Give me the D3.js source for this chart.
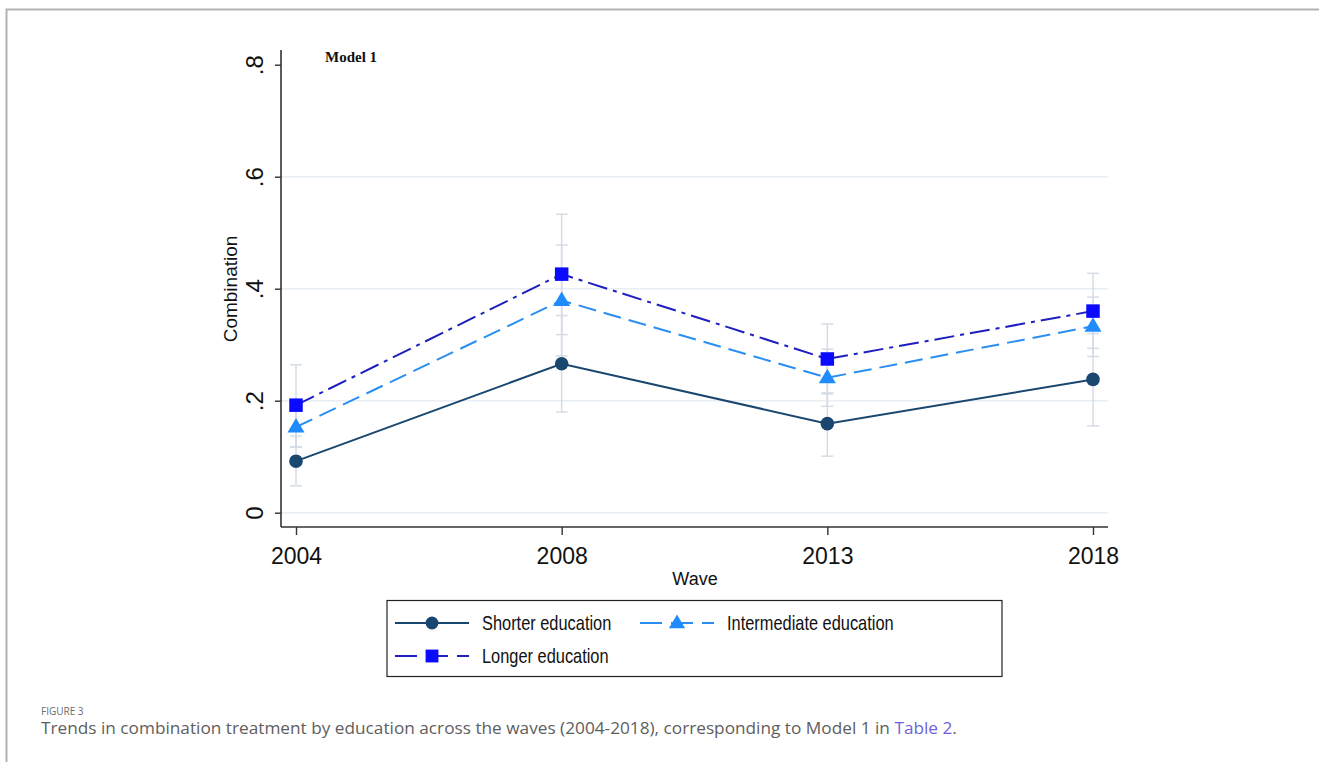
<!DOCTYPE html>
<html>
<head>
<meta charset="utf-8">
<script src="https://cdn.jsdelivr.net/npm/d3@7"></script>
<style>
  html, body { margin: 0; padding: 0; background: #fff; }
  svg { display: block; }
</style>
</head>
<body>
<svg id="chart" width="1319" height="762"></svg>
<script>
// Survey waves and predicted share receiving combination treatment
const waves = ["2004", "2008", "2013", "2018"];
const shorterValues = [0.092, 0.266, 0.159, 0.238];
const shorterLower  = [0.048, 0.180, 0.101, 0.155];
const shorterUpper  = [0.137, 0.352, 0.214, 0.320];
const intermediateValues = [0.153, 0.379, 0.241, 0.333];
const intermediateLower  = [0.117, 0.280, 0.190, 0.279];
const intermediateUpper  = [0.190, 0.478, 0.292, 0.385];
const longerValues = [0.192, 0.426, 0.2745, 0.360];
const longerLower  = [0.118, 0.318, 0.212, 0.2935];
const longerUpper  = [0.264, 0.533, 0.337, 0.4275];
const yTicks = [0, 0.2, 0.4, 0.6, 0.8];
const yTickLabels = ["0", ".2", ".4", ".6", ".8"];
const seriesNames = ["Shorter education", "Intermediate education", "Longer education"];

const series = [
  { name: seriesNames[0], values: shorterValues, lo: shorterLower, hi: shorterUpper,
    line: "#1a476f", fill: "#1a476f", dash: null, legendDash: null, shape: "circle" },
  { name: seriesNames[1], values: intermediateValues, lo: intermediateLower, hi: intermediateUpper,
    line: "#2a8ff0", fill: "#1f8bff", dash: "18,8", legendDash: "22,9", shape: "triangle" },
  { name: seriesNames[2], values: longerValues, lo: longerLower, hi: longerUpper,
    line: "#1f1fc0", fill: "#0a0aff", dash: "20,6,4,6", legendDash: "22,9", shape: "square" }
];

const svg = d3.select("#chart");
const sans = "Arial, 'Liberation Sans', sans-serif";

// Page frame
svg.append("path")
  .attr("d", "M6.5,762 L6.5,9.5 L1319,9.5")
  .attr("fill", "none").attr("stroke", "#b3b3b3").attr("stroke-width", 2);

const plot = { left: 281, right: 1108, top: 50, bottom: 527 };

const x = d3.scalePoint().domain(waves).range([296, 1093]);
const y = d3.scaleLinear().domain([0, 0.8]).range([512.7, 64.7]);

// Horizontal grid lines
svg.append("g").selectAll("line").data(yTicks.slice(0, 4)).join("line")
  .attr("x1", plot.left).attr("x2", plot.right)
  .attr("y1", d => y(d)).attr("y2", d => y(d))
  .attr("stroke", "#e8eef3").attr("stroke-width", 1.5);

// Y axis
const yAxis = d3.axisLeft(y).tickValues(yTicks).tickFormat((d, i) => yTickLabels[i]).tickSize(6).tickPadding(0);
const gy = svg.append("g").attr("transform", `translate(${plot.left},0)`).call(yAxis);
gy.select(".domain").attr("d", `M0,${plot.top}V${plot.bottom}`).attr("stroke", "#333").attr("stroke-width", 1.6);
gy.selectAll(".tick line").attr("stroke", "#333").attr("stroke-width", 1.4);
gy.selectAll(".tick text")
  .attr("transform", "translate(-26,0) rotate(-90)")
  .attr("x", 0).attr("y", 0).attr("dy", "0.35em")
  .attr("text-anchor", "middle")
  .style("font-family", sans)
  .style("font-size", "24px").attr("fill", "#111");

// X axis
const xAxis = d3.axisBottom(x).tickSize(8).tickPadding(13);
const gx = svg.append("g").attr("transform", `translate(0,${plot.bottom})`).call(xAxis);
gx.select(".domain").attr("d", `M${plot.left},0H${plot.right}`).attr("stroke", "#333").attr("stroke-width", 1.6);
gx.selectAll(".tick line").attr("stroke", "#333").attr("stroke-width", 1.4);
gx.selectAll(".tick text")
  .style("font-family", sans)
  .style("font-size", "23px").attr("fill", "#111");

// Axis titles
svg.append("text").attr("x", 695).attr("y", 585).attr("text-anchor", "middle")
  .style("font-family", sans).style("font-size", "18px")
  .attr("fill", "#111").text("Wave");
svg.append("text").attr("transform", "translate(237,289) rotate(-90)").attr("text-anchor", "middle")
  .style("font-family", sans).style("font-size", "19px")
  .attr("fill", "#111").text("Combination");

// Panel label
svg.append("text").attr("x", 325).attr("y", 62)
  .style("font-family", "'Liberation Serif', 'Times New Roman', serif").style("font-size", "15px")
  .style("font-weight", "bold").attr("fill", "#111").text("Model 1");

// Confidence intervals
const ciG = svg.append("g");
series.forEach(s => {
  waves.forEach((w, i) => {
    const cx = x(w);
    ciG.append("line").attr("x1", cx).attr("x2", cx).attr("y1", y(s.lo[i])).attr("y2", y(s.hi[i]))
      .attr("stroke", "#d6dce6").attr("stroke-width", 1.5);
    [s.lo[i], s.hi[i]].forEach(v => {
      ciG.append("line").attr("x1", cx - 6).attr("x2", cx + 6).attr("y1", y(v)).attr("y2", y(v))
        .attr("stroke", "#d6dce6").attr("stroke-width", 1.5);
    });
  });
});

const line = d3.line().x((d, i) => x(waves[i])).y(d => y(d));

function drawMarker(g, shape, cx, cy, fill, scale) {
  const k = scale || 1;
  if (shape === "circle") {
    g.append("circle").attr("cx", cx).attr("cy", cy).attr("r", 6.8 * k).attr("fill", fill);
  } else if (shape === "square") {
    const s = 13.5 * k;
    g.append("rect").attr("x", cx - s / 2).attr("y", cy - s / 2).attr("width", s).attr("height", s).attr("fill", fill);
  } else {
    const h = 14.5 * k, w = 17 * k;
    g.append("path")
      .attr("d", `M${cx},${cy - h * 0.62} L${cx + w / 2},${cy + h * 0.38} L${cx - w / 2},${cy + h * 0.38} Z`)
      .attr("fill", fill);
  }
}

// Series lines and markers
series.forEach(s => {
  svg.append("path").datum(s.values).attr("d", line)
    .attr("fill", "none").attr("stroke", s.line).attr("stroke-width", 2)
    .attr("stroke-dasharray", s.dash);
});
series.forEach(s => {
  const g = svg.append("g");
  s.values.forEach((v, i) => drawMarker(g, s.shape, x(waves[i]), y(v), s.fill));
});

// Legend
const lg = svg.append("g");
lg.append("rect").attr("x", 387).attr("y", 600.5).attr("width", 615).attr("height", 76)
  .attr("fill", "#fff").attr("stroke", "#222").attr("stroke-width", 1.2);
const legendItems = [
  { s: series[0], x0: 395, yy: 623 },
  { s: series[1], x0: 640, yy: 623 },
  { s: series[2], x0: 395, yy: 656 }
];
legendItems.forEach(it => {
  const gi = lg.append("g");
  gi.append("line").attr("x1", it.x0).attr("x2", it.x0 + 74).attr("y1", it.yy).attr("y2", it.yy)
    .attr("stroke", it.s.line).attr("stroke-width", 2)
    .attr("stroke-dasharray", it.s.legendDash);
  drawMarker(gi, it.s.shape, it.x0 + 37, it.yy, it.s.fill, 0.95);
  gi.append("text")
    .attr("transform", `translate(${it.x0 + 87},${it.yy}) scale(0.82,1)`)
    .attr("dy", "0.36em")
    .style("font-family", sans).style("font-size", "20px")
    .attr("fill", "#111").text(it.s.name);
});

// Caption
svg.append("text").attr("x", 41).attr("y", 715)
  .style("font-family", "'Open Sans', 'Noto Sans', sans-serif").style("font-size", "10px")
  .attr("fill", "#6b6b6b").text("FIGURE 3");
const cap = svg.append("text")
  .style("font-family", "'Open Sans', 'Noto Sans', sans-serif").style("font-size", "15px")
  .attr("fill", "#5e5e5e");
cap.append("tspan").text("Trends in combination treatment by education across the waves (2004-2018), corresponding to Model 1 in ");
cap.append("tspan").attr("fill", "#6f5fe0").text("Table 2");
cap.append("tspan").text(".");
// stretch the caption line to its column width
const capW = cap.node().getComputedTextLength();
cap.attr("transform", `translate(41,734) scale(${916 / capW},1.08)`);
</script>
</body>
</html>
